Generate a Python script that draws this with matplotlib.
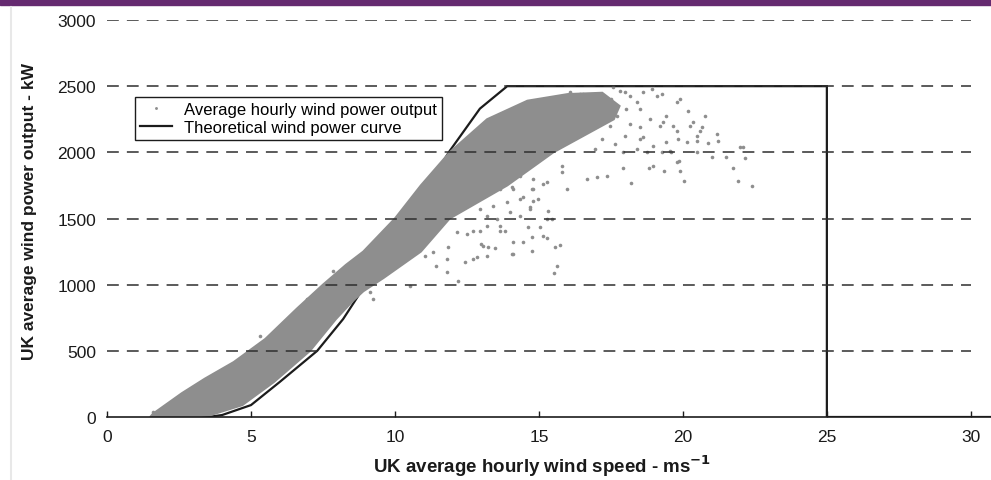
import numpy as np
import matplotlib
matplotlib.use("Agg")
import matplotlib.pyplot as plt
from matplotlib.lines import Line2D
from matplotlib.patches import Rectangle

plt.rcParams['font.family'] = ['Liberation Sans', 'DejaVu Sans']
plt.rcParams['lines.scale_dashes'] = False

# theoretical wind power curve (m/s, kW)
curve_speed = [3.0, 3.5, 4.0, 5.0, 6.0, 7.3, 8.2, 8.7, 9.5, 10.2, 11.0, 11.9, 12.95, 13.9, 25.0, 25.0, 31.0]
curve_power = [0, 0, 15, 90, 265, 500, 740, 907, 1180, 1420, 1700, 2010, 2330, 2500, 2500, 0, 0]

# outline of the dense cloud of hourly observations (upper-left edge, then lower-right edge)
band_upper_speed = [1.5, 1.6, 2.6, 3.4, 4.4, 5.5, 6.6, 7.5, 8.3, 8.9, 10.0, 10.9, 11.9, 13.2, 14.6, 16.0, 17.2]
band_upper_power = [0, 25, 180, 290, 415, 590, 820, 1000, 1150, 1250, 1500, 1750, 2000, 2250, 2390, 2440, 2450]
band_lower_speed = [17.8, 17.6, 15.5, 13.9, 11.9, 10.9, 9.6, 8.9, 8.55, 7.95, 7.05, 5.8, 4.7, 3.6, 2.8]
band_lower_power = [2350, 2250, 2000, 1750, 1500, 1250, 1050, 950, 880, 740, 500, 265, 90, 15, 0]

# individual scattered hours outside the dense cloud
outlier_speed = [
    16.66, 17.0, 17.37, 15.98, 18.2, 17.93, 18.83, 18.97, 19.35, 19.9, 20.03, 19.78, 19.87,
    21.75, 21.92, 22.4, 22.15, 21.98, 22.1, 21.5, 21.0, 21.17, 21.23, 20.88, 20.48, 20.5,
    20.13, 19.6, 19.26, 18.74, 18.39, 17.93, 19.84, 19.43, 18.97, 18.62, 19.2, 19.66, 20.24,
    20.59, 20.76, 20.68, 20.36, 20.18, 19.9, 19.78, 19.78, 19.43, 19.32, 19.09, 19.26, 18.91,
    18.62, 18.39, 18.5, 18.85, 18.5, 17.81, 17.99, 18.16, 17.58, 16.42, 16.08, 20.48, 19.55,
    16.54, 17.1, 17.5, 18.04, 17.7, 18.16, 17.99, 17.64, 18.5, 17.47, 17.18, 16.94,
    15.32, 15.47, 15.64, 15.52, 15.73, 15.56, 15.15, 15.27, 14.75, 14.75, 14.43, 14.1, 14.05,
    13.47, 13.2, 13.07, 14.63, 14.0, 14.34, 14.69, 13.65, 13.82, 13.18, 15.27, 14.8, 14.98,
    14.75, 15.27, 15.15, 15.79, 15.79, 14.05, 14.46,
    11.8, 12.2, 11.85, 12.43, 12.72, 12.84, 13.0, 13.24, 12.14, 12.49, 12.72, 12.95, 13.65,
    14.1, 15.03, 13.18, 13.53, 13.88, 14.34, 14.69, 10.52, 11.44, 11.8, 11.04, 11.33, 12.95,
    13.41, 13.65, 14.1, 14.8, 9.13, 9.25, 14.34, 14.8,
    6.94, 5.3, 7.85, 3.8, 1.6,
]
outlier_power = [
    1799, 1812, 1819, 1723, 1769, 1880, 1882, 1895, 1857, 1857, 1786, 1925, 1937,
    1882, 1786, 1749, 1955, 2043, 2038, 1962, 1967, 2139, 2088, 2071, 2126, 2003,
    2076, 2001, 2001, 2001, 2026, 2001, 2101, 2076, 2051, 2114, 2202, 2202, 2202,
    2164, 2278, 2190, 2227, 2315, 2403, 2379, 2164, 2278, 2227, 2429, 2441, 2479,
    2454, 2379, 2328, 2252, 2190, 2467, 2454, 2429, 2492, 2441, 2454, 2088, 2013,
    2441, 2429, 2403, 2328, 2278, 2215, 2126, 2064, 2101, 2202, 2101, 2026,
    1559, 1497, 1144, 1086, 1300, 1288, 1371, 1353, 1257, 1358, 1325, 1325, 1233,
    1277, 1219, 1295, 1434, 1547, 1522, 1572, 1446, 1408, 1446, 1497, 1635, 1648,
    1723, 1774, 1761, 1850, 1900, 1736, 1661,
    1094, 1030, 1283, 1169, 1194, 1207, 1308, 1283, 1396, 1383, 1408, 1408, 1408,
    1232, 1434, 1522, 1497, 1623, 1648, 1585, 993, 1144, 1194, 1219, 1245, 1572,
    1597, 1723, 1723, 1723, 942, 892, 1824, 1799,
    892, 613, 1103, 265, 38,
]

x_ticks = [0, 5, 10, 15, 20, 25, 30]
y_ticks = [0, 500, 1000, 1500, 2000, 2500, 3000]

W, H = 991, 481
fig = plt.figure(figsize=(W / 100, H / 100), dpi=100)
ax = fig.add_axes([107 / W, (H - 418) / H, 884 / W, 397 / H])

dot_grey = '#8e8e8e'

ax.plot(curve_speed, curve_power, color='#1c1c1c', lw=1.6, zorder=1.8,
        label='Theoretical wind power curve', solid_joinstyle='miter')

ax.fill(band_upper_speed + band_lower_speed, band_upper_power + band_lower_power,
        facecolor=dot_grey, edgecolor=dot_grey, lw=1.5, zorder=2)
ax.plot(outlier_speed, outlier_power, ls='none', marker='o', ms=2.6, mew=0,
        color=dot_grey, zorder=2, label='Average hourly wind power output')

# dashed horizontal guide lines, drawn over the data
ax.hlines(y_ticks[1:], 0, 30, colors='#2e2e2e', lw=1.1,
          linestyles=[(0, (8.5, 5.8))], zorder=3)

ax.set_xlim(0, 30.7)
ax.set_ylim(0, 3000)
ax.set_xticks(x_ticks)
ax.set_yticks(y_ticks)
ax.tick_params(axis='x', direction='in', length=4, width=1, color='#1c1c1c',
               labelsize=12.5, pad=9, labelcolor='#1a1a1a')
ax.tick_params(axis='y', length=0, labelsize=12.5, pad=8, labelcolor='#1a1a1a')
for side in ['left', 'top', 'right']:
    ax.spines[side].set_visible(False)
ax.spines['bottom'].set_linewidth(1.2)
ax.spines['bottom'].set_color('#1c1c1c')

ax.set_xlabel('UK average hourly wind speed - ms$^{\\mathbf{-1}}$', fontsize=13.5,
              fontweight='bold', color='#1a1a1a', va='center')
ax.xaxis.set_label_coords((542 - 107) / 884, -(466 - 418) / 397)
ax.set_ylabel('UK average wind power output - kW', fontsize=12.5,
              fontweight='bold', color='#1a1a1a', va='center')
ax.yaxis.set_label_coords((30 - 107) / 884, (418 - 212) / 397)

handles, labels = ax.get_legend_handles_labels()
leg = ax.legend(handles[::-1], labels[::-1], loc='upper left',
                bbox_to_anchor=(135 / W, 1 - 98 / H), bbox_transform=fig.transFigure,
                fancybox=False, edgecolor='#1c1c1c', framealpha=1, fontsize=12,
                borderpad=0.3, handlelength=1.9, handletextpad=0.75, labelspacing=0.15,
                borderaxespad=0, markerscale=0.8)
leg.get_frame().set_linewidth(1.0)
leg.set_zorder(5)

# purple banner at the top and faint left border of the page
fig.add_artist(Rectangle((0, 1 - 6 / H), 1, 6 / H, transform=fig.transFigure,
                         color='#652a70', zorder=0))
fig.add_artist(Line2D([11 / W, 11 / W], [0, 1 - 8 / H], transform=fig.transFigure,
                      color='#e8e8e8', lw=1.5))

fig.savefig('out.png', dpi=100)
